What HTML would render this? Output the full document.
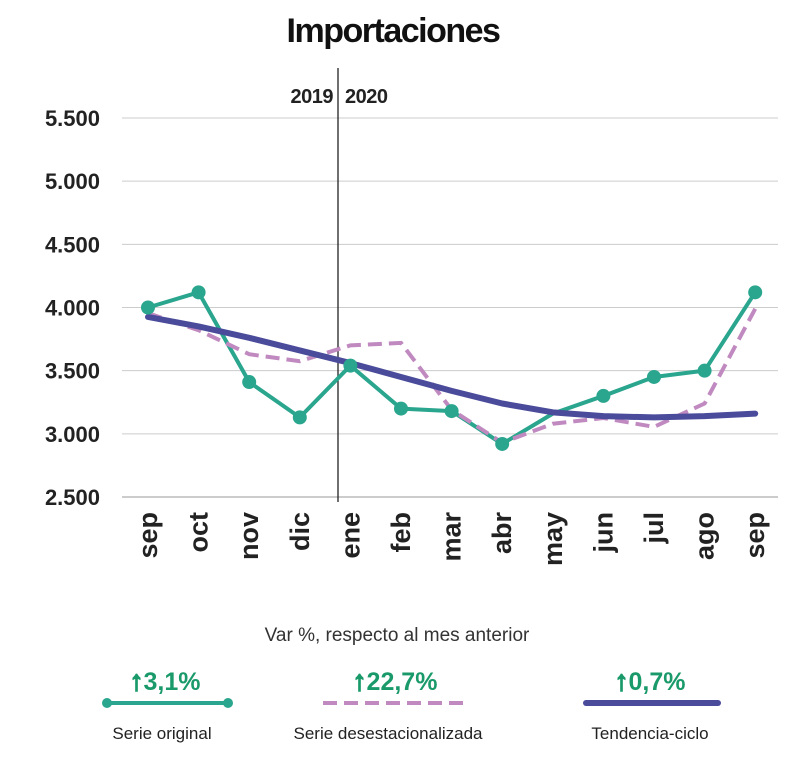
<!DOCTYPE html>
<html><head><meta charset="utf-8"><style>
body{margin:0;background:#fff;font-family:"Liberation Sans",sans-serif;}
svg text{font-family:"Liberation Sans",sans-serif;}
</style></head><body>
<svg id="c" width="800" height="752">
<text x="393" y="42" text-anchor="middle" font-size="34" font-weight="bold" fill="#111" style="letter-spacing:-1.5px">Importaciones</text>
<g id="grid"></g><g id="series"></g>
<text x="333" y="103" text-anchor="end" font-size="20" font-weight="bold" fill="#222" style="letter-spacing:-0.5px">2019</text>
<text x="345" y="103" font-size="20" font-weight="bold" fill="#222" style="letter-spacing:-0.5px">2020</text>
<text x="397" y="641" text-anchor="middle" font-size="19" fill="#333">Var %, respecto al mes anterior</text>
<g>
<text x="165" y="690" text-anchor="middle" font-size="25" font-weight="bold" fill="#1a9a6a"><tspan font-size="28" stroke="#1a9a6a" stroke-width="1.5">↑</tspan>3,1%</text>
<line x1="107" y1="703" x2="228" y2="703" stroke="#2aa58e" stroke-width="4"/>
<circle cx="107" cy="703" r="5" fill="#2aa58e"/><circle cx="228" cy="703" r="5" fill="#2aa58e"/>
<text x="162" y="739" text-anchor="middle" font-size="17" fill="#222">Serie original</text></g>
<g>
<text x="395" y="690" text-anchor="middle" font-size="25" font-weight="bold" fill="#1a9a6a"><tspan font-size="28" stroke="#1a9a6a" stroke-width="1.5">↑</tspan>22,7%</text>
<line x1="323" y1="703" x2="468" y2="703" stroke="#c08ac0" stroke-width="4" stroke-dasharray="14,7"/>
<text x="388" y="739" text-anchor="middle" font-size="17" fill="#222">Serie desestacionalizada</text></g>
<g>
<text x="650" y="690" text-anchor="middle" font-size="25" font-weight="bold" fill="#1a9a6a"><tspan font-size="28" stroke="#1a9a6a" stroke-width="1.5">↑</tspan>0,7%</text>
<line x1="586" y1="703" x2="718" y2="703" stroke="#4a4b9a" stroke-width="6" stroke-linecap="round"/>
<text x="650" y="739" text-anchor="middle" font-size="17" fill="#222">Tendencia-ciclo</text></g>
</svg>
<script>
const months=["sep","oct","nov","dic","ene","feb","mar","abr","may","jun","jul","ago","sep"];
const original=[4000,4120,3410,3130,3540,3200,3180,2920,3160,3300,3450,3500,4120];
const desest=[3955,3820,3630,3575,3700,3720,3190,2930,3080,3125,3055,3240,3990];
const trend=[3925,3850,3760,3660,3560,3450,3340,3240,3170,3140,3130,3140,3160];
const yTicks=[2500,3000,3500,4000,4500,5000,5500];
const yLabels=["2.500","3.000","3.500","4.000","4.500","5.000","5.500"];
const NS="http://www.w3.org/2000/svg";
const y=v=>497-(v-2500)*379/3000;
const x=i=>148+i*50.6;
function mk(t,a,p){const e=document.createElementNS(NS,t);for(const k in a)e.setAttribute(k,a[k]);p.appendChild(e);return e;}
const g=document.getElementById('grid'),s=document.getElementById('series');
yTicks.forEach((v,i)=>{
 const l=mk('line',{x1:122,x2:778,y1:y(v),y2:y(v),stroke:i==0?'#999':'#ccc','stroke-width':1},g);
 
 
 const t=mk('text',{x:100,y:y(v)+8,'text-anchor':'end','font-size':22,'font-weight':'bold',fill:'#222'},g);
 t.textContent=yLabels[i];
 
 
});
const vl=mk('line',{x1:338,x2:338,y1:68,y2:502,stroke:'#222','stroke-width':1.3},g);


months.forEach((m,i)=>{
 const t=mk('text',{x:0,y:0,transform:`translate(${x(i)+9},${512}) rotate(-90)`,'text-anchor':'end','font-size':27,'font-weight':'bold',fill:'#222'},g);
 t.textContent=m;
 
 
});
const pts=a=>a.map((v,i)=>x(i)+','+y(v)).join(' ');
const p1=mk('polyline',{points:pts(original),fill:'none',stroke:'#2aa58e','stroke-width':4,'stroke-linejoin':'round'},s);


const p2=mk('polyline',{points:pts(desest),fill:'none',stroke:'#c08ac0','stroke-width':4,'stroke-dasharray':'14,7'},s);


const p3=mk('polyline',{points:pts(trend),fill:'none',stroke:'#4a4b9a','stroke-width':6,'stroke-linejoin':'round','stroke-linecap':'round'},s);


original.forEach((v,i)=>{
 if(i!=8){
 const c=mk('circle',{cx:x(i),cy:y(v),r:7,fill:'#2aa58e'},s);
 
 }
});
</script>
</body></html>
